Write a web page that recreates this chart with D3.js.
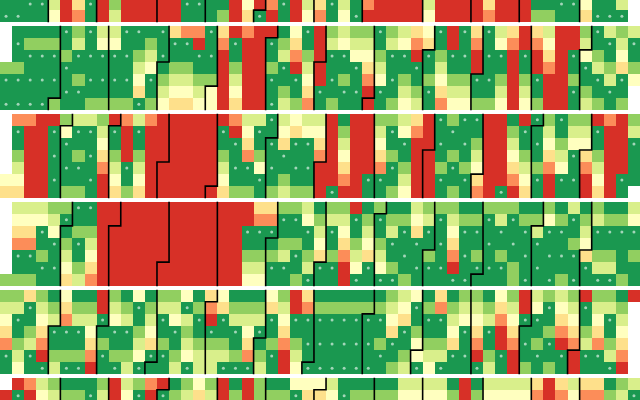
<!DOCTYPE html>
<html><head><meta charset="utf-8">
<style>html,body{margin:0;padding:0;background:#fff;overflow:hidden}svg{display:block}</style>
<script src="https://cdn.jsdelivr.net/npm/d3@7"></script></head><body>
<script>
// value classes: 0 deep loss ... 6 strong gain, 7 strongest gain (dotted), -1 no data
const classColors=["#d73027","#fc8d59","#fee08b","#ffffbf","#d9ef8b","#91cf60","#1a9850","#1a9850"];
const years=[2019,2020,2021,2022,2023,2024];
const y2019=[[],[],[],[],[],
[6,6,7,7,4,0,2,7,0,5,0,0,0,0,0,7,7,6,6,0,3,0,1,7,0,4,2,7,4,6,1,0,0,0,0,4,0,0,0,0,2,0,0,0,6,6,7,7,3,6,6,4,-1],
[7,7,6,6,3,0,1,6,0,4,0,0,0,0,0,6,6,6,5,0,2,7,0,6,0,3,1,6,3,7,0,0,0,0,0,3,0,0,0,0,1,0,0,0,5,5,6,6,2,7,7,7,-1]];
const y2020=[
[-1,6,6,6,6,7,5,7,4,4,7,7,6,7,2,1,1,7,2,0,1,0,0,6,3,7,0,5,4,5,5,7,5,4,2,3,7,0,7,2,7,4,2,0,2,4,0,0,5,7,4,5,4],
[-1,7,5,5,5,6,4,6,3,3,6,6,5,6,7,7,0,6,1,7,0,0,7,5,2,6,0,4,3,4,4,6,4,3,1,2,6,0,6,1,6,3,1,0,1,3,0,0,4,6,7,4,7],
[-1,6,7,7,7,5,7,7,7,7,7,5,4,7,6,6,7,7,0,6,0,0,6,4,1,5,0,7,7,3,3,5,7,7,0,7,5,7,7,0,7,7,0,7,0,2,0,7,3,5,6,3,6],
[5,5,6,6,6,7,6,6,6,6,6,4,3,6,5,5,6,6,0,5,0,0,5,7,0,4,0,6,6,7,2,4,6,6,7,6,4,6,6,0,6,6,0,6,0,1,0,6,7,4,5,2,5],
[7,7,7,7,7,6,5,7,7,7,7,3,7,5,4,4,5,5,0,4,0,0,7,6,7,3,0,7,5,6,1,3,7,5,6,5,3,5,5,7,7,5,0,5,7,0,0,5,6,7,4,7,3],
[6,6,6,6,6,7,7,6,6,6,6,2,6,4,3,3,4,3,0,3,0,0,6,5,6,2,7,6,7,7,0,7,6,4,5,7,2,4,4,6,6,4,0,4,6,0,0,7,5,6,7,6,-1],
[7,7,7,7,5,6,6,5,5,5,5,7,5,3,2,2,3,3,0,2,0,0,7,4,5,1,6,5,6,6,0,6,5,3,4,6,1,3,3,5,5,3,0,3,5,0,0,6,4,5,6,5,-1]];
const y2021=[
[-1,1,1,0,0,5,4,4,5,0,1,4,1,0,0,0,0,0,0,1,4,4,7,4,3,4,4,0,6,0,0,5,5,4,2,0,7,5,7,7,0,0,6,0,7,5,7,5,5,0,1,0,5],
[-1,7,0,0,7,3,7,7,4,7,0,7,0,0,0,0,0,0,7,0,3,7,6,3,2,3,3,0,5,0,0,4,7,3,1,0,6,7,6,6,0,0,5,7,6,4,6,4,4,7,0,0,4],
[-1,6,0,0,6,7,6,6,3,6,0,6,0,0,0,0,0,0,6,7,2,6,7,2,7,7,2,0,4,0,0,3,6,7,0,0,7,6,7,5,0,0,4,6,7,3,5,3,3,6,0,0,7],
[-1,5,0,0,7,6,5,7,2,5,0,5,0,0,0,0,0,0,5,6,1,5,6,7,6,6,1,0,3,0,0,2,5,6,0,0,6,5,6,4,0,0,3,5,6,2,4,7,2,5,0,0,6],
[-1,4,0,0,6,7,7,6,1,4,7,4,0,0,0,0,0,0,4,7,7,3,7,6,7,7,0,0,2,0,0,1,7,5,0,0,5,7,5,3,0,0,2,4,5,1,3,6,1,4,0,0,6],
[3,3,0,0,7,6,6,7,0,3,6,3,0,0,0,0,0,0,3,6,6,7,6,5,6,6,0,0,1,0,7,7,6,4,0,0,7,6,7,2,0,0,1,3,7,0,7,7,0,3,0,7,6],
[2,2,0,0,6,5,5,6,0,2,5,2,0,0,0,0,0,0,2,5,5,6,5,4,5,5,0,7,0,0,6,6,5,3,0,0,6,5,6,1,0,7,0,2,6,0,6,6,0,2,0,6,-1]];
const y2022=[
[-1,4,4,4,5,5,7,7,0,0,0,0,0,0,0,0,0,0,0,0,0,2,2,5,5,4,6,5,5,0,6,5,6,6,4,5,5,5,6,6,5,5,5,6,6,5,6,4,6,5,6,6,4],
[-1,3,3,3,4,7,6,6,0,0,0,0,0,0,0,0,0,0,0,0,0,1,1,7,7,3,5,4,4,7,5,7,5,5,3,4,7,4,5,5,7,4,7,5,5,3,5,7,5,4,5,5,3],
[-1,2,2,7,3,6,5,5,0,0,0,0,0,0,0,0,0,0,0,0,7,7,7,6,6,7,4,7,3,6,4,6,4,7,2,7,6,3,7,7,6,7,6,7,4,7,7,6,4,7,7,7,7],
[-1,1,1,6,7,5,7,4,0,0,0,0,0,0,0,0,0,0,0,0,6,6,6,5,5,6,3,6,2,5,3,5,7,6,7,6,7,2,6,6,7,6,7,6,7,6,6,5,3,6,6,6,6],
[-1,7,7,5,6,4,6,3,0,0,0,0,0,0,0,0,0,0,0,0,5,5,5,4,7,5,2,5,1,4,2,4,6,7,6,5,6,1,7,5,6,5,6,7,6,7,7,7,2,5,5,6,5],
[-1,6,6,7,7,3,5,2,0,0,0,0,0,0,0,0,0,0,0,0,4,4,7,7,6,4,7,7,0,3,7,3,5,6,7,7,7,0,6,7,7,7,5,6,7,6,6,6,7,4,4,6,6],
[5,5,5,6,6,2,4,1,0,0,0,0,0,0,0,0,0,0,0,0,3,3,6,6,5,7,6,6,0,7,6,7,7,5,6,6,6,7,7,6,6,6,5,7,6,7,5,7,6,7,7,5,6]];
const y2023=[
[5,5,2,5,6,3,6,6,0,5,6,3,6,5,5,3,6,2,3,6,6,6,3,5,0,2,6,6,6,6,6,6,5,4,3,6,2,6,5,5,6,3,5,0,4,5,4,5,0,5,5,6,0],
[4,4,7,4,5,2,5,5,0,4,5,7,5,4,4,7,5,1,2,5,5,5,2,4,0,1,5,5,5,5,5,5,4,3,7,5,1,5,4,4,5,2,4,0,3,7,3,4,7,4,4,5,-1],
[3,7,6,3,4,1,4,4,7,3,4,6,4,7,3,4,7,0,7,4,4,4,7,3,7,7,7,7,7,7,7,7,3,2,6,7,7,4,3,3,4,1,3,7,7,6,2,3,6,3,7,4,-1],
[2,6,5,2,7,7,7,3,6,7,7,5,3,6,7,5,6,7,6,7,3,7,6,2,6,6,6,6,6,6,6,6,2,7,5,6,6,3,7,2,7,0,2,6,6,5,1,2,5,2,6,3,-1],
[1,5,4,1,6,6,6,2,5,6,6,4,2,5,6,4,5,5,5,6,2,6,5,1,5,7,7,7,7,7,7,5,7,6,3,5,5,2,6,1,6,0,1,7,5,7,0,1,4,1,5,2,-1],
[7,4,7,0,5,5,5,1,7,5,5,3,7,7,5,3,4,4,4,5,1,5,7,0,4,6,6,6,6,6,6,7,6,5,3,4,4,7,7,0,5,7,0,6,7,6,7,0,7,7,4,1,-1],
[6,3,6,7,4,7,7,0,6,7,4,7,6,6,4,7,4,4,7,7,7,4,6,0,3,7,7,7,7,7,7,6,5,4,7,3,7,6,6,7,4,6,0,5,6,5,6,0,6,6,7,0,-1]];
const y2024=[
[-1,0,1,4,5,6,6,6,5,0,4,5,1,0,6,5,3,5,0,6,0,5,6,6,3,3,3,4,6,6,6,6,6,4,4,4,4,6,0,6,4,4,4,4,2,0,2,4,2,2,6,5,4],
[0,7,0,3,4,5,5,7,4,0,3,7,0,7,5,4,2,4,0,5,0,5,5,5,7,2,2,3,7,5,5,5,5,3,3,3,3,5,0,5,3,3,3,3,1,0,1,3,1,1,5,4,7]];
const matrices=[y2019,y2020,y2021,y2022,y2023,y2024];

const width=640,height=400;
const x=d3.scaleBand().domain(d3.range(53)).range([0,width]);
const y=d3.scaleBand().domain(d3.range(7)).range([0,x.bandwidth()*7]);
const yearY=d3.scaleLinear().domain([years[0],years[5]]).range([-62.3,377.7]);
const color=d3.scaleOrdinal().domain(d3.range(8)).range(classColors);

const svg=d3.select("body").append("svg").attr("width",width).attr("height",height)
  .attr("viewBox",[0,0,width,height]).style("background","#fff");
const cells=years.flatMap((yr,i)=>matrices[i].flatMap((row,r)=>row.map((v,c)=>({yr,r,c,v})).filter(d=>d.v>=0)));
const g=svg.selectAll("g.year").data(years).join("g").attr("class","year")
  .attr("transform",d=>`translate(0,${yearY(d)})`);
g.selectAll("rect").data(yr=>cells.filter(d=>d.yr===yr)).join("rect")
  .attr("shape-rendering","crispEdges")
  .attr("x",d=>x(d.c)).attr("y",d=>y(d.r))
  .attr("width",x.bandwidth()).attr("height",y.bandwidth())
  .attr("fill",d=>color(d.v));
g.selectAll("circle").data(yr=>cells.filter(d=>d.yr===yr&&d.v===7)).join("circle")
  .attr("cx",d=>x(d.c)+x.bandwidth()/2).attr("cy",d=>y(d.r)+y.bandwidth()/2)
  .attr("r",1.5).attr("fill","#fff").attr("fill-opacity",0.6);
const cw=x.bandwidth(),ch=y.bandwidth();
g.selectAll("path").data(yr=>d3.timeMonths(new Date(yr,1,1),new Date(yr+1,0,1))).join("path")
  .attr("fill","none").attr("stroke","#000").attr("stroke-width",1.6)
  .attr("d",t=>{
    const d=t.getDay(),w=d3.timeWeek.count(d3.timeYear(t),t);
    return d===0?`M${w*cw},0V${7*ch}`:`M${(w+1)*cw},0V${d*ch}H${w*cw}V${7*ch}`;
  });
</script></body></html>
